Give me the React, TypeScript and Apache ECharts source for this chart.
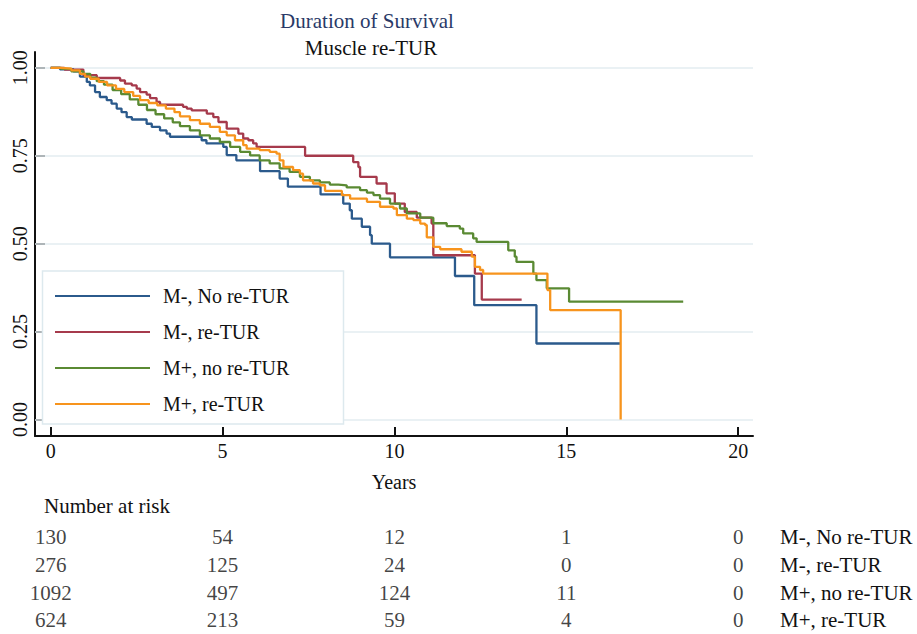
import React, { useEffect, useRef } from 'react';
import * as echarts from 'echarts';

const FONT = '"Liberation Serif", "DejaVu Serif", serif';

const groups = ['M-, No re-TUR', 'M-, re-TUR', 'M+, no re-TUR', 'M+, re-TUR'];
const colors = ['#2b5a8c', '#a63a4c', '#5a8a33', '#f7941d'];

const xTicks = [0, 5, 10, 15, 20];
const yTicks = [0, 0.25, 0.5, 0.75, 1];

// Kaplan-Meier step points [years, survival]
const survMNoReTUR = [
  [0, 1], [0.27, 0.996], [0.66, 0.99], [0.85, 0.975], [1.05, 0.96], [1.14, 0.95], [1.29, 0.931],
  [1.43, 0.917], [1.63, 0.908], [1.77, 0.898], [1.92, 0.884], [2.06, 0.874], [2.21, 0.86],
  [2.36, 0.853], [2.79, 0.841], [2.94, 0.832], [3.18, 0.822], [3.37, 0.813], [3.47, 0.804],
  [4.39, 0.794], [4.53, 0.785], [5.02, 0.775], [5.12, 0.752], [5.4, 0.737], [6.09, 0.706],
  [6.66, 0.685], [6.9, 0.662], [7.85, 0.64], [8.51, 0.614], [8.7, 0.595], [8.76, 0.571],
  [9.05, 0.548], [9.29, 0.524], [9.34, 0.5], [9.87, 0.461], [11.76, 0.408], [12.32, 0.325],
  [14.13, 0.216], [16.56, 0.216],
];
const survMReTUR = [
  [0, 1], [0.4, 0.995], [0.95, 0.979], [1.34, 0.971], [2.02, 0.964], [2.16, 0.955], [2.36, 0.95],
  [2.5, 0.941], [2.6, 0.931], [2.79, 0.924], [2.89, 0.914], [3.08, 0.903], [3.18, 0.895],
  [3.85, 0.889], [3.96, 0.884], [4.1, 0.879], [4.54, 0.87], [4.73, 0.86], [4.88, 0.846],
  [5.12, 0.827], [5.46, 0.813], [5.6, 0.799], [5.75, 0.794], [5.89, 0.785], [5.99, 0.775],
  [7.4, 0.75], [8.8, 0.732], [8.95, 0.718], [9.0, 0.69], [9.48, 0.671], [9.77, 0.643],
  [10.01, 0.614], [10.3, 0.59], [10.65, 0.574], [11.08, 0.557], [11.13, 0.467], [12.34, 0.415],
  [12.54, 0.341], [13.7, 0.341],
];
const survMPlusNoReTUR = [
  [0, 1], [0.3, 0.997], [0.6, 0.99], [0.95, 0.983], [1.15, 0.972], [1.34, 0.962], [1.55, 0.952],
  [1.8, 0.937], [2.05, 0.925], [2.3, 0.91], [2.55, 0.895], [2.8, 0.88], [3.05, 0.868],
  [3.3, 0.856], [3.55, 0.845], [3.76, 0.834], [4.05, 0.822], [4.34, 0.808], [4.63, 0.799],
  [4.92, 0.789], [5.22, 0.775], [5.51, 0.761], [5.8, 0.751], [6.08, 0.737], [6.37, 0.728],
  [6.66, 0.714], [6.95, 0.704], [7.25, 0.69], [7.54, 0.68], [7.83, 0.674], [8.12, 0.668],
  [8.37, 0.666], [8.61, 0.66], [9.0, 0.652], [9.2, 0.645], [9.39, 0.638], [9.58, 0.628],
  [9.87, 0.614], [10.16, 0.6], [10.36, 0.586], [10.75, 0.574], [11.13, 0.558], [11.52, 0.55],
  [11.9, 0.543], [12.0, 0.529], [12.29, 0.515], [12.39, 0.505], [13.31, 0.481], [13.5, 0.463],
  [13.55, 0.448], [14.04, 0.415], [14.13, 0.396], [14.43, 0.373], [15.08, 0.335], [18.4, 0.335],
];
const survMPlusReTUR = [
  [0, 1], [0.3, 0.998], [0.6, 0.993], [0.85, 0.983], [1.0, 0.975], [1.15, 0.969], [1.4, 0.96],
  [1.64, 0.95], [1.9, 0.94], [2.14, 0.931], [2.4, 0.92], [2.6, 0.908], [2.85, 0.9], [3.1, 0.893],
  [3.35, 0.884], [3.6, 0.874], [3.76, 0.862], [4.05, 0.851], [4.34, 0.841], [4.63, 0.832],
  [4.92, 0.818], [5.12, 0.808], [5.36, 0.794], [5.6, 0.78], [5.7, 0.77], [6.08, 0.766],
  [6.37, 0.761], [6.57, 0.756], [6.66, 0.737], [6.77, 0.718], [7.05, 0.709], [7.25, 0.699],
  [7.34, 0.68], [7.63, 0.671], [7.83, 0.666], [7.98, 0.65], [8.47, 0.638], [8.71, 0.628],
  [9.2, 0.619], [9.58, 0.605], [9.97, 0.6], [10.07, 0.581], [10.36, 0.571], [10.55, 0.567],
  [10.75, 0.557], [10.89, 0.553], [10.94, 0.518], [11.13, 0.491], [11.33, 0.484], [11.95, 0.477],
  [12.25, 0.463], [12.34, 0.434], [12.49, 0.425], [12.58, 0.415], [14.45, 0.368], [14.53, 0.311],
  [16.58, 0.311], [16.58, 0],
];

const riskTimes = [0, 5, 10, 15, 20];
const riskMNoReTUR = [130, 54, 12, 1, 0];
const riskMReTUR = [276, 125, 24, 0, 0];
const riskMPlusNoReTUR = [1092, 497, 124, 11, 0];
const riskMPlusReTUR = [624, 213, 59, 4, 0];

export default function App() {
  const ref = useRef<HTMLDivElement>(null);

  useEffect(() => {
    if (!ref.current) return;
    const chart = echarts.init(ref.current, undefined, { renderer: 'svg' });
    const survival = [survMNoReTUR, survMReTUR, survMPlusNoReTUR, survMPlusReTUR];
    const risk = [riskMNoReTUR, riskMReTUR, riskMPlusNoReTUR, riskMPlusReTUR];
    const axisColor = '#111';

    chart.setOption({
      animation: false,
      backgroundColor: '#ffffff',
      textStyle: { fontFamily: FONT },
      grid: [
        { left: 35, top: 52, width: 718, height: 384 },
        { left: 35, top: 523.5, width: 718, height: 115 },
      ],
      xAxis: [
        {
          type: 'value', gridIndex: 0, min: -0.457, max: 20.43,
          axisLine: { show: true, onZero: false, lineStyle: { color: axisColor, width: 2 } },
          axisTick: { show: true, inside: true, length: 9, lineStyle: { color: axisColor, width: 2 }, customValues: xTicks },
          axisLabel: { customValues: xTicks, margin: 5, fontSize: 20, color: axisColor, fontFamily: FONT },
          splitLine: { show: false },
          name: 'Years', nameLocation: 'middle', nameGap: 36,
          nameTextStyle: { fontSize: 20, color: axisColor, fontFamily: FONT },
        },
        {
          type: 'value', gridIndex: 1, min: -0.457, max: 20.43, show: false,
        },
      ],
      yAxis: [
        {
          type: 'value', gridIndex: 0, min: -0.047, max: 1.045,
          axisLine: { show: true, onZero: false, lineStyle: { color: axisColor, width: 2 } },
          axisTick: { show: true, inside: true, length: 10, lineStyle: { color: axisColor, width: 2 }, customValues: yTicks },
          axisLabel: {
            customValues: yTicks, rotate: 90, margin: 5, fontSize: 20, color: axisColor, fontFamily: FONT,
            formatter: (v: number) => v.toFixed(2),
          },
          splitLine: { show: false },
        },
        {
          type: 'category', gridIndex: 1, data: groups, inverse: true, position: 'right',
          axisLine: { show: false }, axisTick: { show: false }, splitLine: { show: false },
          axisLabel: { margin: 27, fontSize: 21, color: axisColor, fontFamily: FONT, align: 'left' },
        },
      ],
      legend: {
        data: groups,
        orient: 'vertical',
        left: 55, top: 286,
        padding: 0,
        icon: 'rect',
        itemWidth: 95, itemHeight: 2,
        itemGap: 16,
        z: 6,
        textStyle: { fontSize: 20, lineHeight: 20, color: axisColor, fontFamily: FONT, padding: [0, 0, 0, 8] },
      },
      graphic: [
        {
          type: 'rect', z: 4,
          shape: { x: 42.5, y: 271, width: 301, height: 153 },
          style: { fill: '#ffffff', stroke: '#dde9ee', lineWidth: 1.5 },
        },
        {
          type: 'text', x: 367, y: 20.5,
          style: { text: 'Duration of Survival', textAlign: 'center', textVerticalAlign: 'middle', align: 'center', verticalAlign: 'middle', font: `21px ${FONT}`, fill: '#2a3a68' },
        },
        {
          type: 'text', x: 371, y: 47.5,
          style: { text: 'Muscle re-TUR', textAlign: 'center', textVerticalAlign: 'middle', align: 'center', verticalAlign: 'middle', font: `21px ${FONT}`, fill: '#111' },
        },
        {
          type: 'text', x: 44, y: 506,
          style: { text: 'Number at risk', textAlign: 'left', textVerticalAlign: 'middle', align: 'left', verticalAlign: 'middle', font: `21px ${FONT}`, fill: '#111' },
        },
      ],
      series: [
        {
          type: 'line', name: '__grid', xAxisIndex: 0, yAxisIndex: 0, data: [], silent: true, z: 1,
          markLine: {
            z: 1,
            symbol: 'none', silent: true, label: { show: false },
            lineStyle: { color: '#e3edf1', width: 1.5, type: 'solid' },
            data: yTicks.map((v) => ({ yAxis: v })),
          },
        },
        ...groups.map((g, i) => ({
          type: 'line', name: g, step: 'end', xAxisIndex: 0, yAxisIndex: 0,
          data: survival[i], showSymbol: false, symbol: 'none', z: 2,
          lineStyle: { width: 2.3, color: colors[i] }, itemStyle: { color: colors[i] },
        })),
        ...risk.map((r, i) => ({
          type: 'scatter', xAxisIndex: 1, yAxisIndex: 1, symbolSize: 1, silent: true,
          itemStyle: { color: 'rgba(0,0,0,0)' },
          data: riskTimes.map((t, j) => [t, groups[i], r[j]]),
          label: {
            show: true, position: 'inside', color: axisColor, fontSize: 21, fontFamily: FONT,
            formatter: (p: any) => String(p.value[2]),
          },
        })),
      ],
    });
    return () => chart.dispose();
  }, []);

  return <div ref={ref} style={{ position: 'fixed', left: 0, top: 0, width: 917, height: 634 }} />;
}
